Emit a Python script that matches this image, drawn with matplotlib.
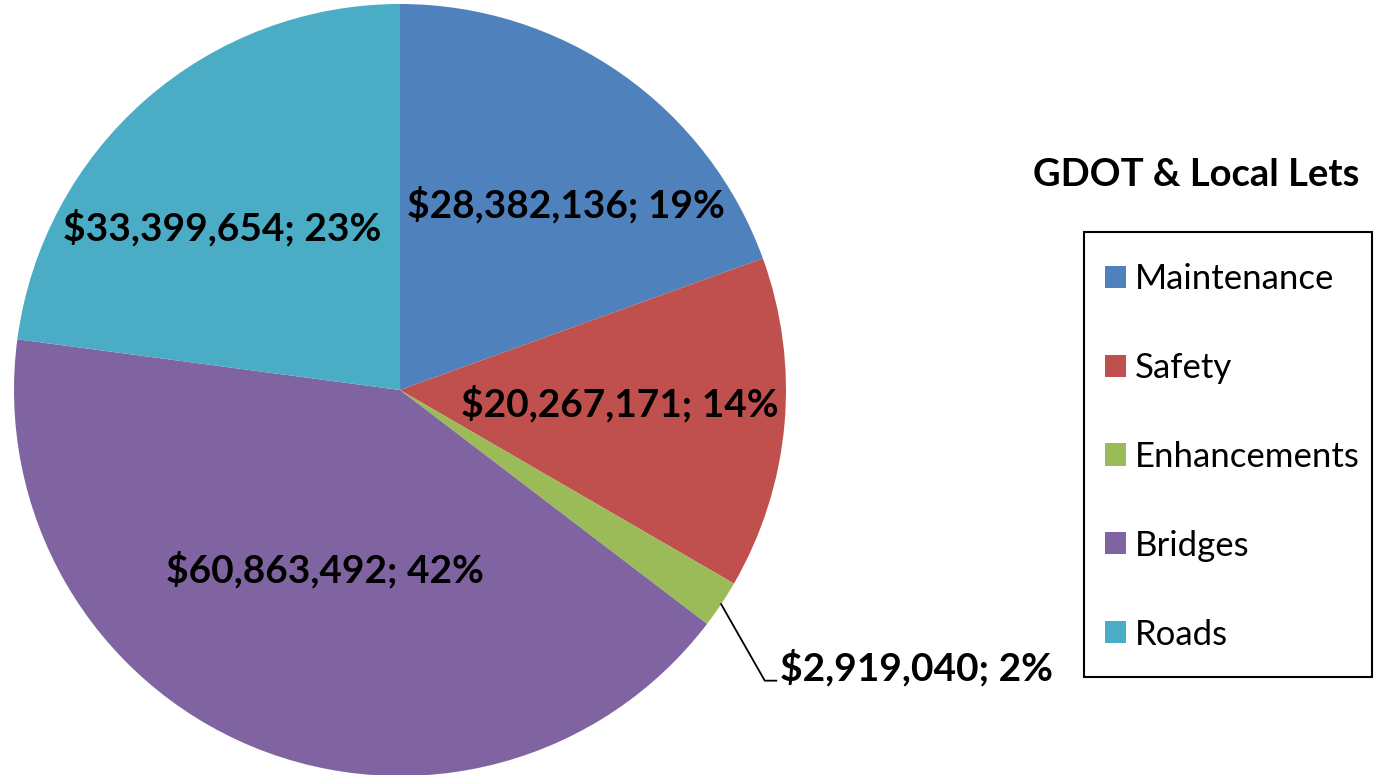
import numpy as np
import matplotlib.pyplot as plt
from matplotlib.patches import Rectangle

# GDOT & Local lets by category
categories = ['Maintenance', 'Safety', 'Enhancements', 'Bridges', 'Roads']
amounts = [28382136, 20267171, 2919040, 60863492, 33399654]
percents = [19, 14, 2, 42, 23]
colors = ['#4F81BD', '#C0504D', '#9BBB59', '#8064A2', '#4BACC6']

# label placement (axes units, pie radius = 1)
label_pos = [(0.43, 0.48), (0.57, -0.036), (0.985, -0.72), (-0.194, -0.466), (-0.461, 0.42)]
label_ha = ['center', 'center', 'left', 'center', 'center']

plt.rcParams['font.family'] = ['Lato', 'DejaVu Sans']

W, H = 1381, 775
fig = plt.figure(figsize=(W / 100, H / 100), dpi=100)
cx, cy, r = 400 / W, 1 - 390 / H, 386
ax = fig.add_axes([cx - r / W, cy - r / H, 2 * r / W, 2 * r / H])

wedges, _ = ax.pie(amounts, colors=colors, startangle=90, counterclock=False,
                   radius=1, wedgeprops=dict(linewidth=0))
ax.set_xlim(-1, 1)
ax.set_ylim(-1, 1)
ax.set_aspect('equal')
ax.axis('off')

for i, (amt, pct) in enumerate(zip(amounts, percents)):
    x, y = label_pos[i]
    ax.text(x, y, f'${amt:,}; {pct}%', ha=label_ha[i], va='center',
            fontsize=28, fontweight='bold', color='black', clip_on=False)

# leader line for the small slice
w = wedges[2]
mid = np.deg2rad((w.theta1 + w.theta2) / 2)
x0, y0 = np.cos(mid), np.sin(mid)
ax.plot([x0, 0.945, 0.975], [y0, -0.753, -0.753], color='black', lw=1.3,
        clip_on=False)

fig.text(1196 / W, 1 - 175 / H, 'GDOT & Local Lets', ha='center', va='center',
         fontsize=27.5, fontweight='bold')

# legend box drawn separately so the entries can be spaced like the original
fig.patches.append(Rectangle((1084 / W, 1 - 677 / H), 288 / W, 445 / H,
                             transform=fig.transFigure, fill=False,
                             edgecolor='black', linewidth=1.5))
leg = fig.legend(wedges, categories, loc='upper left',
                 bbox_to_anchor=(1084 / W, 1 - 242 / H), borderaxespad=0,
                 fontsize=25, frameon=False,
                 handlelength=0.6, handleheight=0.6, handletextpad=0.26,
                 labelspacing=1.64, borderpad=0.6)

fig.savefig('out.png', dpi=100)
